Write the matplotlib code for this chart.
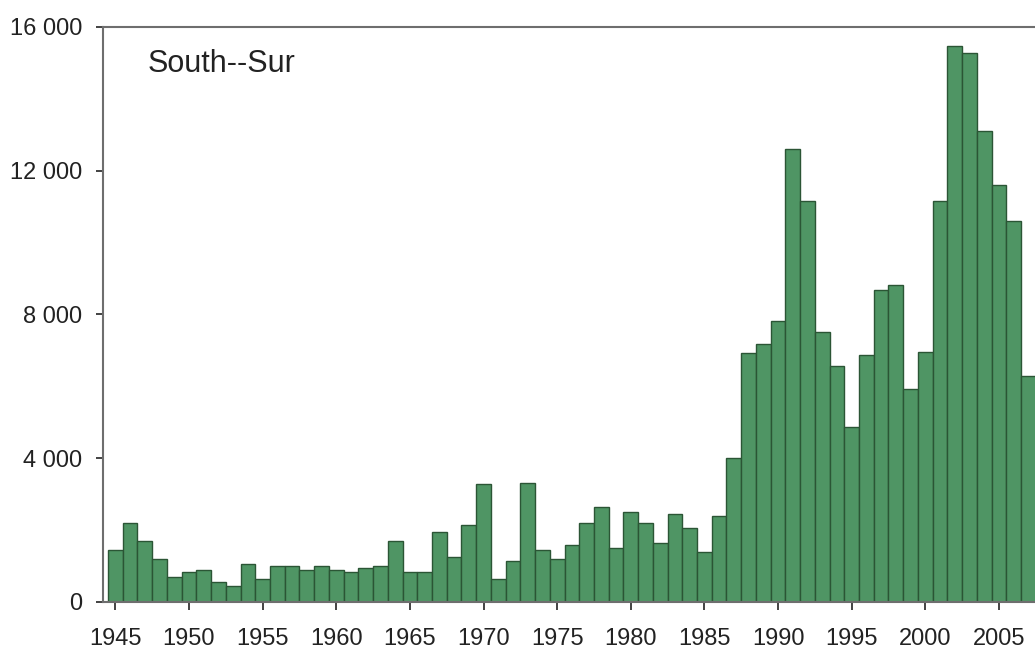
import matplotlib.pyplot as plt
import matplotlib.ticker as mticker

plt.rcParams['font.family'] = ['Liberation Sans', 'DejaVu Sans']

years = list(range(1945, 2008))
values = [1440, 2200, 1700, 1200, 700, 830, 890, 560, 440, 1070,
          650, 1000, 1000, 890, 1000, 890, 830, 940, 1000, 1700,
          830, 830, 1950, 1260, 2140, 3270, 630, 1140, 3310, 1440,
          1200, 1580, 2200, 2640, 1490, 2500, 2200, 1650, 2450, 2070,
          1380, 2380, 4010, 6930, 7190, 7810, 12610, 11170, 7500, 6560,
          4870, 6880, 8670, 8810, 5930, 6950, 11170, 15470, 15280, 13110,
          11610, 10610, 6300]
title = 'South--Sur'
yticks = [0, 4000, 8000, 12000, 16000]
xticks = list(range(1945, 2010, 5))

fig = plt.figure(figsize=(10.35, 6.52), dpi=100)
ax = fig.add_axes([103 / 1035, 50 / 652, 932 / 1035, 575 / 652])

ax.bar(years, values, width=1.0, color='#4f9564', edgecolor='#2b5535', linewidth=1.0)

ax.set_xlim(1944.16, 2007.45)
ax.set_ylim(0, 16000)
ax.set_yticks(yticks)
ax.yaxis.set_major_formatter(mticker.FuncFormatter(lambda v, p: f'{int(v):,}'.replace(',', ' ')))
ax.set_xticks(xticks)

for s in ['left', 'top', 'bottom']:
    ax.spines[s].set_color('#6e6e6e')
    ax.spines[s].set_linewidth(1.5)
ax.spines['right'].set_visible(False)

ax.tick_params(axis='both', labelsize=17, colors='#222222', length=6, width=1.2)
ax.tick_params(axis='x', pad=13)
ax.tick_params(axis='y', length=5, pad=10)

ax.text(0.048, 0.936, title, transform=ax.transAxes, fontsize=22, color='#222222',
        ha='left', va='center')

fig.savefig('out.png', dpi=100)
